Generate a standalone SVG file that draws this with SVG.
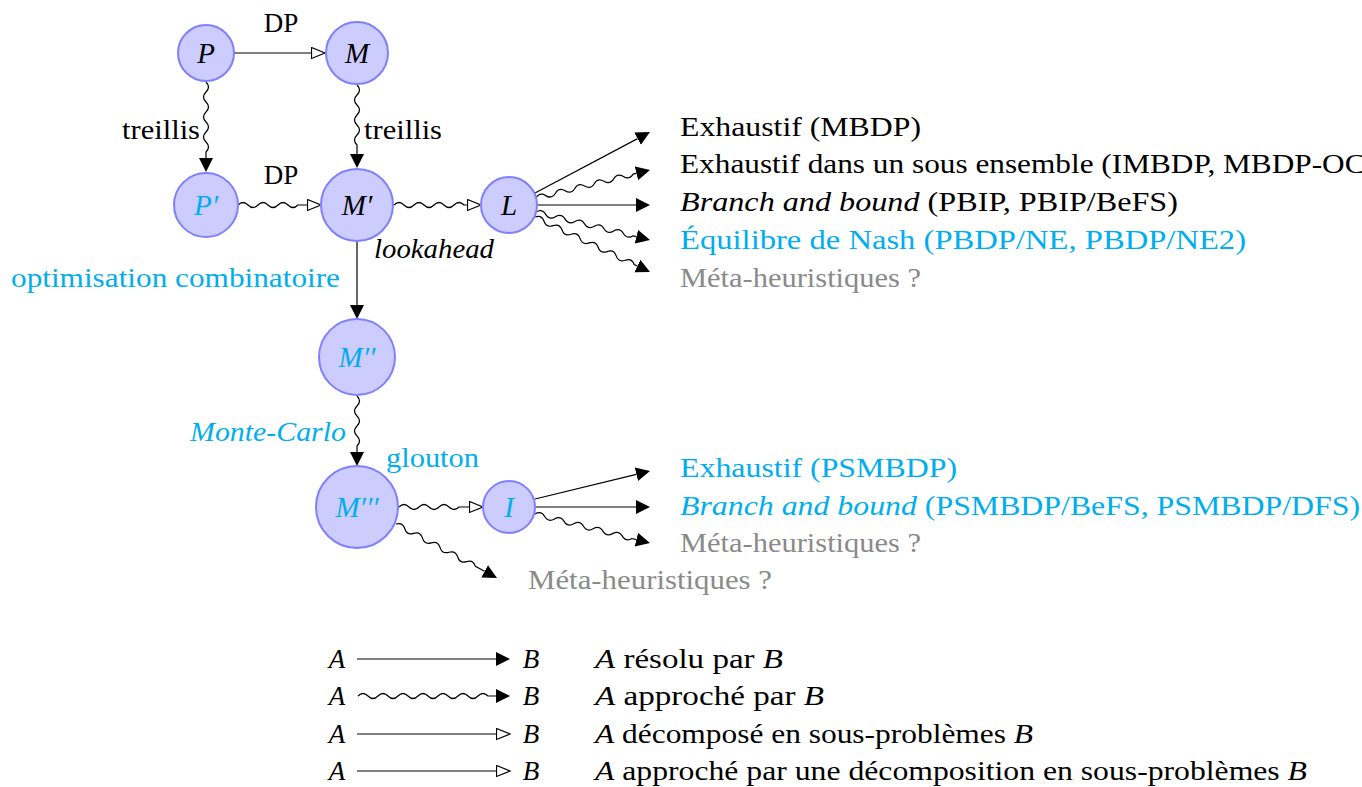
<svg xmlns="http://www.w3.org/2000/svg" width="1362" height="787" viewBox="0 0 1362 787">
<style>
text{font-size:27px;fill:#000}
.s{font-family:'Liberation Serif',serif}
.it{font-style:italic}
.c{fill:#00aeef}
.g{fill:#8a8a8a}
.node circle{fill:#ccccff;stroke:#8080ff;stroke-width:2}
.node text{text-anchor:middle;font-style:italic;font-size:29px}
.e{fill:none;stroke:#000;stroke-width:1.2}
.f{marker-end:url(#tip)}
.o{marker-end:url(#open)}
</style>
<defs>
<marker id="tip" markerUnits="userSpaceOnUse" markerWidth="16" markerHeight="16" refX="0" refY="7" orient="auto"><path d="M0,0 L14,7 L0,14 z" fill="#000"/></marker>
<marker id="open" markerUnits="userSpaceOnUse" markerWidth="16" markerHeight="16" refX="0" refY="6" orient="auto"><path d="M0.5,0.5 L14,6 L0.5,11.5 z" fill="#fff" stroke="#000" stroke-width="1.2"/></marker>
</defs>
<rect width="1362" height="787" fill="#fff"/>
<g id="connectors">
<path class="e o" d="M234,53 H311"/>
<path class="e f" transform="translate(206,82) rotate(90)" d="M0,0 q5,-5 10,0 t10,0 t10,0 t10,0 t10,0 t10,0 t10,0 h6"/>
<path class="e f" transform="translate(357,85) rotate(90)" d="M0,0 q5,-5 10,0 t10,0 t10,0 t10,0 t10,0 t10,0 h9"/>
<path class="e o" transform="translate(238,205)" d="M0,0 q5,-5 10,0 t10,0 t10,0 t10,0 t10,0 t10,0 h9"/>
<path class="e o" transform="translate(394,205)" d="M0,0 q5,-5 10,0 t10,0 t10,0 t10,0 t10,0 t10,0 t10,0 h3"/>
<path class="e f" d="M357,242 V305"/>
<path class="e f" transform="translate(357,396) rotate(90)" d="M0,0 q5,-5 10,0 t10,0 t10,0 t10,0 t10,0 h6"/>
<path class="e o" transform="translate(399,507)" d="M0,0 q5,-5 10,0 t10,0 t10,0 t10,0 t10,0 t10,0 h10"/>
<path class="e f" transform="translate(396,524) rotate(28.1)" d="M0,0 q5,-5 10,0 t10,0 t10,0 t10,0 t10,0 t10,0 t10,0 t10,0 t10,0 h10.5"/>
<path class="e f" d="M535,193 L637.6,138.6"/>
<path class="e f" transform="translate(536,198) rotate(-13.8)" d="M0,0 q5,-5 10,0 t10,0 t10,0 t10,0 t10,0 t10,0 t10,0 t10,0 t10,0 t10,0 h3.4"/>
<path class="e f" d="M537,205 H636"/>
<path class="e f" transform="translate(536,212) rotate(13.8)" d="M0,0 q5,-5 10,0 t10,0 t10,0 t10,0 t10,0 t10,0 t10,0 t10,0 t10,0 t10,0 h3.4"/>
<path class="e f" transform="translate(535,217) rotate(25.6)" d="M0,0 q5,-5 10,0 t10,0 t10,0 t10,0 t10,0 t10,0 t10,0 t10,0 t10,0 t10,0 t10,0 h3.5"/>
<path class="e f" d="M535,499 L636.4,474.3"/>
<path class="e f" d="M535,507 H636"/>
<path class="e f" transform="translate(535,514) rotate(14.2)" d="M0,0 q5,-5 10,0 t10,0 t10,0 t10,0 t10,0 t10,0 t10,0 t10,0 t10,0 t10,0 h4.6"/>
</g>
<g id="edge-labels">
<text class="s" x="281" y="32" text-anchor="middle" style="font-family:'Liberation Serif',serif">DP</text>
<text class="s" x="281" y="184" text-anchor="middle" style="font-family:'Liberation Serif',serif">DP</text>
<text class="s" x="122" y="139" textLength="78" lengthAdjust="spacingAndGlyphs" style="font-family:'Liberation Serif',serif">treillis</text>
<text class="s" x="364" y="139" textLength="78" lengthAdjust="spacingAndGlyphs" style="font-family:'Liberation Serif',serif">treillis</text>
<text class="s it" x="374" y="258" textLength="120" lengthAdjust="spacingAndGlyphs" style="font-family:'Liberation Serif',serif">lookahead</text>
<text class="s c" x="11" y="287" textLength="329" lengthAdjust="spacingAndGlyphs" style="font-family:'Liberation Serif',serif">optimisation combinatoire</text>
<text class="s it c" x="190" y="441" textLength="156" lengthAdjust="spacingAndGlyphs" style="font-family:'Liberation Serif',serif">Monte-Carlo</text>
<text class="s c" x="386" y="467" textLength="93" lengthAdjust="spacingAndGlyphs" style="font-family:'Liberation Serif',serif">glouton</text>
</g>
<g id="node-P" class="node"><circle cx="206" cy="53" r="28"/><text class="s" x="206" y="63" style="font-family:'Liberation Serif',serif">P</text></g>
<g id="node-M" class="node"><circle cx="357" cy="53" r="31"/><text class="s" x="357" y="63" style="font-family:'Liberation Serif',serif">M</text></g>
<g id="node-P1" class="node"><circle cx="206" cy="205" r="32"/><text class="s c" x="206" y="215" style="font-family:'Liberation Serif',serif">P′</text></g>
<g id="node-M1" class="node"><circle cx="357" cy="205" r="36"/><text class="s" x="357" y="215" style="font-family:'Liberation Serif',serif">M′</text></g>
<g id="node-L" class="node"><circle cx="509" cy="205" r="28"/><text class="s" x="509" y="215" style="font-family:'Liberation Serif',serif">L</text></g>
<g id="node-M2" class="node"><circle cx="357" cy="357" r="38"/><text class="s c" x="357" y="367" style="font-family:'Liberation Serif',serif">M′′</text></g>
<g id="node-M3" class="node"><circle cx="357" cy="507" r="41"/><text class="s c" x="357" y="517" style="font-family:'Liberation Serif',serif">M′′′</text></g>
<g id="node-I" class="node"><circle cx="509" cy="507" r="26"/><text class="s c" x="509" y="517" style="font-family:'Liberation Serif',serif">I</text></g>
<g id="targets">
<text class="s" x="680" y="136" textLength="241" lengthAdjust="spacingAndGlyphs" style="font-family:'Liberation Serif',serif">Exhaustif (MBDP)</text>
<text class="s" x="680" y="173" textLength="696" lengthAdjust="spacingAndGlyphs" style="font-family:'Liberation Serif',serif">Exhaustif dans un sous ensemble (IMBDP, MBDP-OC)</text>
<text class="s" x="680" y="211" textLength="498" lengthAdjust="spacingAndGlyphs" style="font-family:'Liberation Serif',serif"><tspan class="it">Branch and bound</tspan> (PBIP, PBIP/BeFS)</text>
<text class="s c" x="680" y="249" textLength="566" lengthAdjust="spacingAndGlyphs" style="font-family:'Liberation Serif',serif">Équilibre de Nash (PBDP/NE, PBDP/NE2)</text>
<text class="s g" x="680" y="287" textLength="241" lengthAdjust="spacingAndGlyphs" style="font-family:'Liberation Serif',serif">Méta-heuristiques ?</text>
<text class="s c" x="680" y="477" textLength="277" lengthAdjust="spacingAndGlyphs" style="font-family:'Liberation Serif',serif">Exhaustif (PSMBDP)</text>
<text class="s c" x="680" y="515" textLength="680" lengthAdjust="spacingAndGlyphs" style="font-family:'Liberation Serif',serif"><tspan class="it">Branch and bound</tspan> (PSMBDP/BeFS, PSMBDP/DFS)</text>
<text class="s g" x="680" y="552" textLength="241" lengthAdjust="spacingAndGlyphs" style="font-family:'Liberation Serif',serif">Méta-heuristiques ?</text>
<text class="s g" x="528" y="589" textLength="244" lengthAdjust="spacingAndGlyphs" style="font-family:'Liberation Serif',serif">Méta-heuristiques ?</text>
</g>
<g id="legend">
<text class="s it" x="337" y="668" text-anchor="middle" style="font-family:'Liberation Serif',serif">A</text>
<text class="s it" x="531" y="668" text-anchor="middle" style="font-family:'Liberation Serif',serif">B</text>
<path class="e f" d="M357,659 H496"/>
<text class="s" x="595" y="668" textLength="188" lengthAdjust="spacingAndGlyphs" style="font-family:'Liberation Serif',serif"><tspan class="it">A</tspan> résolu par <tspan class="it">B</tspan></text>
<text class="s it" x="337" y="705" text-anchor="middle" style="font-family:'Liberation Serif',serif">A</text>
<text class="s it" x="531" y="705" text-anchor="middle" style="font-family:'Liberation Serif',serif">B</text>
<path class="e f" transform="translate(358,696)" d="M0,0 q5,-5 10,0 t10,0 t10,0 t10,0 t10,0 t10,0 t10,0 t10,0 t10,0 t10,0 t10,0 t10,0 t10,0 h8"/>
<text class="s" x="595" y="705" textLength="229" lengthAdjust="spacingAndGlyphs" style="font-family:'Liberation Serif',serif"><tspan class="it">A</tspan> approché par <tspan class="it">B</tspan></text>
<text class="s it" x="337" y="743" text-anchor="middle" style="font-family:'Liberation Serif',serif">A</text>
<text class="s it" x="531" y="743" text-anchor="middle" style="font-family:'Liberation Serif',serif">B</text>
<path class="e o" d="M357,734 H496"/>
<text class="s" x="595" y="743" textLength="438" lengthAdjust="spacingAndGlyphs" style="font-family:'Liberation Serif',serif"><tspan class="it">A</tspan> décomposé en sous-problèmes <tspan class="it">B</tspan></text>
<text class="s it" x="337" y="780" text-anchor="middle" style="font-family:'Liberation Serif',serif">A</text>
<text class="s it" x="531" y="780" text-anchor="middle" style="font-family:'Liberation Serif',serif">B</text>
<path class="e o" d="M357,771 H496"/>
<text class="s" x="595" y="780" textLength="712" lengthAdjust="spacingAndGlyphs" style="font-family:'Liberation Serif',serif"><tspan class="it">A</tspan> approché par une décomposition en sous-problèmes <tspan class="it">B</tspan></text>
</g>
</svg>
